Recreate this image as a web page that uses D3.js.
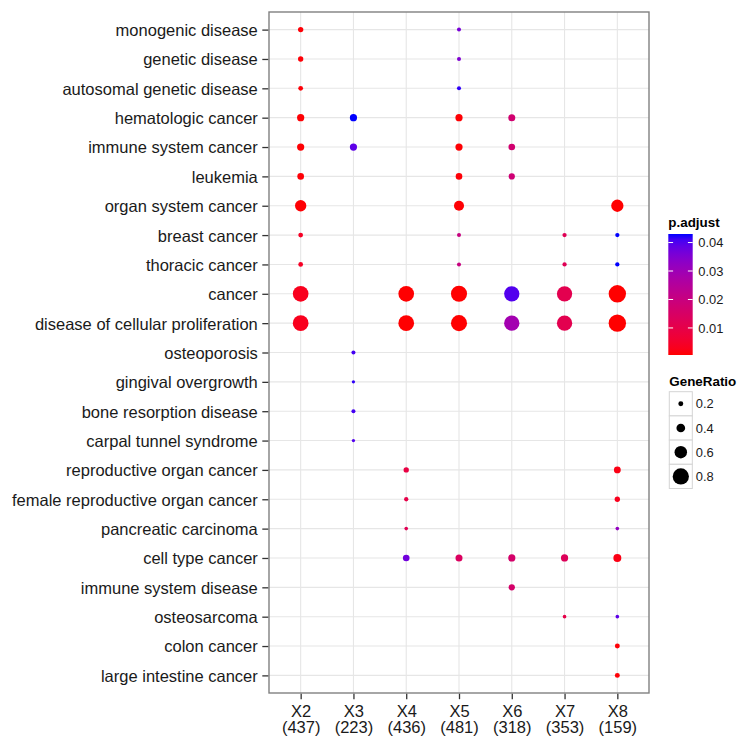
<!DOCTYPE html>
<html>
<meta charset="utf-8">
<script src="https://d3js.org/d3.v7.min.js"></script>

<body>

    <style>
        body,
        html {
            margin: 0;
            padding: 0;
            background: #fff;
            overflow: hidden;
        }

        svg text {
            font-family: "Liberation Sans", Arial, Helvetica, sans-serif;
        }
    </style>

    <svg id="chart"></svg>

    <script>
        // clusters on the x axis, with their gene counts
        var clusters = ["X2", "X3", "X4", "X5", "X6", "X7", "X8"];
        var clusterSizes = [437, 223, 436, 481, 318, 353, 159];

        // disease terms on the y axis, top to bottom
        var descriptions = [
            "monogenic disease", "genetic disease", "autosomal genetic disease",
            "hematologic cancer", "immune system cancer", "leukemia",
            "organ system cancer", "breast cancer", "thoracic cancer", "cancer",
            "disease of cellular proliferation", "osteoporosis", "gingival overgrowth",
            "bone resorption disease", "carpal tunnel syndrome", "reproductive organ cancer",
            "female reproductive organ cancer", "pancreatic carcinoma", "cell type cancer",
            "immune system disease", "osteosarcoma", "colon cancer", "large intestine cancer"
        ];

        // one entry per dot (long format)
        var pointCluster = [
            "X2", "X5",
            "X2", "X5",
            "X2", "X5",
            "X2", "X3", "X5", "X6",
            "X2", "X3", "X5", "X6",
            "X2", "X5", "X6",
            "X2", "X5", "X8",
            "X2", "X5", "X7", "X8",
            "X2", "X5", "X7", "X8",
            "X2", "X4", "X5", "X6", "X7", "X8",
            "X2", "X4", "X5", "X6", "X7", "X8",
            "X3", "X3", "X3", "X3",
            "X4", "X8",
            "X4", "X8",
            "X4", "X8",
            "X4", "X5", "X6", "X7", "X8",
            "X6",
            "X7", "X8",
            "X8", "X8"
        ];
        var pointDescription = [
            "monogenic disease", "monogenic disease",
            "genetic disease", "genetic disease",
            "autosomal genetic disease", "autosomal genetic disease",
            "hematologic cancer", "hematologic cancer", "hematologic cancer", "hematologic cancer",
            "immune system cancer", "immune system cancer", "immune system cancer", "immune system cancer",
            "leukemia", "leukemia", "leukemia",
            "organ system cancer", "organ system cancer", "organ system cancer",
            "breast cancer", "breast cancer", "breast cancer", "breast cancer",
            "thoracic cancer", "thoracic cancer", "thoracic cancer", "thoracic cancer",
            "cancer", "cancer", "cancer", "cancer", "cancer", "cancer",
            "disease of cellular proliferation", "disease of cellular proliferation",
            "disease of cellular proliferation", "disease of cellular proliferation",
            "disease of cellular proliferation", "disease of cellular proliferation",
            "osteoporosis", "gingival overgrowth", "bone resorption disease", "carpal tunnel syndrome",
            "reproductive organ cancer", "reproductive organ cancer",
            "female reproductive organ cancer", "female reproductive organ cancer",
            "pancreatic carcinoma", "pancreatic carcinoma",
            "cell type cancer", "cell type cancer", "cell type cancer", "cell type cancer", "cell type cancer",
            "immune system disease",
            "osteosarcoma", "osteosarcoma",
            "colon cancer", "large intestine cancer"
        ];
        var geneRatio = [
            0.22, 0.15,
            0.22, 0.15,
            0.19, 0.15,
            0.32, 0.32, 0.32, 0.31,
            0.32, 0.32, 0.32, 0.29,
            0.29, 0.29, 0.27,
            0.54, 0.47, 0.59,
            0.19, 0.15, 0.165, 0.165,
            0.19, 0.15, 0.165, 0.165,
            0.77, 0.77, 0.79, 0.75, 0.75, 0.86,
            0.77, 0.77, 0.79, 0.75, 0.75, 0.86,
            0.15, 0.11, 0.15, 0.11,
            0.22, 0.30,
            0.165, 0.22,
            0.13, 0.13,
            0.29, 0.31, 0.32, 0.32, 0.36,
            0.27,
            0.13, 0.13,
            0.20, 0.20
        ];
        var pAdjust = [
            0.001, 0.036,
            0.001, 0.035,
            0.001, 0.042,
            0.0008, 0.043, 0.0008, 0.017,
            0.0008, 0.039, 0.0008, 0.017,
            0.001, 0.001, 0.018,
            0.0008, 0.0008, 0.0006,
            0.004, 0.020, 0.012, 0.043,
            0.004, 0.020, 0.012, 0.043,
            0.003, 0.0006, 0.0006, 0.040, 0.011, 0.0005,
            0.003, 0.0006, 0.0006, 0.029, 0.011, 0.0005,
            0.041, 0.042, 0.041, 0.040,
            0.009, 0.002,
            0.010, 0.003,
            0.012, 0.032,
            0.037, 0.014, 0.016, 0.013, 0.002,
            0.016,
            0.010, 0.039,
            0.001, 0.001
        ];

        var colorTicks = [0.01, 0.02, 0.03, 0.04];
        var sizeTicks = [0.2, 0.4, 0.6, 0.8];

        var data = pointCluster.map(function (c, i) {
            return { cluster: c, description: pointDescription[i], ratio: geneRatio[i], p: pAdjust[i] };
        });

        var width = 738, height = 738;
        var panel = { left: 269, right: 649, top: 12, bottom: 693 };
        var textColor = "#1a1a1a";

        var svg = d3.select("#chart")
            .attr("width", width)
            .attr("height", height);

        svg.append("rect").attr("width", width).attr("height", height).attr("fill", "#fff");

        var x = d3.scalePoint()
            .domain(clusters)
            .range([panel.left, panel.right])
            .padding(0.6);

        var y = d3.scalePoint()
            .domain(descriptions)
            .range([panel.top, panel.bottom])
            .padding(0.6);

        var color = d3.scaleLinear()
            .domain(d3.extent(pAdjust))
            .range(["red", "blue"])
            .interpolate(d3.interpolateLab);

        var size = d3.scaleLinear()
            .domain([0, 1])
            .range([0.6, 10]);

        // grid
        var grid = svg.append("g");
        grid.selectAll(".vgrid")
            .data(clusters)
            .enter().append("line")
            .attr("x1", function (d) { return x(d); })
            .attr("x2", function (d) { return x(d); })
            .attr("y1", panel.top)
            .attr("y2", panel.bottom)
            .attr("stroke", "#e6e6e6")
            .attr("stroke-width", 1.1);
        grid.selectAll(".hgrid")
            .data(descriptions)
            .enter().append("line")
            .attr("y1", function (d) { return y(d); })
            .attr("y2", function (d) { return y(d); })
            .attr("x1", panel.left)
            .attr("x2", panel.right)
            .attr("stroke", "#e6e6e6")
            .attr("stroke-width", 1.1);

        // dots
        svg.selectAll(".dot")
            .data(data)
            .enter().append("circle")
            .attr("class", "dot")
            .attr("cx", function (d) { return x(d.cluster); })
            .attr("cy", function (d) { return y(d.description); })
            .attr("r", function (d) { return size(d.ratio); })
            .attr("fill", function (d) { return color(d.p); });

        // panel border
        svg.append("rect")
            .attr("x", panel.left)
            .attr("y", panel.top)
            .attr("width", panel.right - panel.left)
            .attr("height", panel.bottom - panel.top)
            .attr("fill", "none")
            .attr("stroke", "#808080")
            .attr("stroke-width", 1.4);

        // y axis
        var yAxis = svg.append("g")
            .attr("transform", "translate(" + (panel.left - 0.7) + ",0)")
            .call(d3.axisLeft(y).tickSize(6).tickPadding(4.5));
        yAxis.select(".domain").remove();
        yAxis.selectAll("line").attr("stroke", "#333").attr("stroke-width", 1.3);
        yAxis.selectAll("text")
            .attr("fill", textColor)
            .attr("dy", "0.36em")
            .style("font-size", "16.5px")
            .style("font-family", "'Liberation Sans', Arial, sans-serif");

        // x axis, two line labels
        var xAxis = svg.append("g")
            .attr("transform", "translate(0," + (panel.bottom + 0.7) + ")")
            .call(d3.axisBottom(x).tickSize(5.5));
        xAxis.select(".domain").remove();
        xAxis.selectAll("line").attr("stroke", "#333").attr("stroke-width", 1.3);
        xAxis.selectAll("text")
            .attr("y", null)
            .attr("dy", null)
            .attr("fill", textColor)
            .style("font-size", "16.5px")
            .style("font-family", "'Liberation Sans', Arial, sans-serif")
            .text(null)
            .each(function (d, i) {
                var t = d3.select(this);
                t.append("tspan").attr("x", 0).attr("y", 23).text(d);
                t.append("tspan").attr("x", 0).attr("y", 39.5).text("(" + clusterSizes[clusters.indexOf(d)] + ")");
            });

        // colour legend
        var cbar = { x: 668.3, w: 24.4, top: 234, bottom: 355 };
        var cy = d3.scaleLinear()
            .domain(color.domain())
            .range([cbar.bottom, cbar.top]);

        var grad = svg.append("defs").append("linearGradient")
            .attr("id", "pgrad")
            .attr("x1", 0).attr("y1", 1).attr("x2", 0).attr("y2", 0);
        d3.range(0, 1.0001, 0.05).forEach(function (t) {
            var v = color.domain()[0] + t * (color.domain()[1] - color.domain()[0]);
            grad.append("stop").attr("offset", t).attr("stop-color", color(v));
        });

        svg.append("text")
            .attr("x", 668.3)
            .attr("y", 226.5)
            .attr("fill", "#000")
            .style("font-size", "13.4px")
            .style("font-weight", "bold")
            .text("p.adjust");

        svg.append("rect")
            .attr("x", cbar.x)
            .attr("y", cbar.top)
            .attr("width", cbar.w)
            .attr("height", cbar.bottom - cbar.top)
            .attr("fill", "url(#pgrad)");

        var cticks = svg.append("g").selectAll("g")
            .data(colorTicks)
            .enter().append("g")
            .attr("transform", function (d) { return "translate(0," + cy(d) + ")"; });
        cticks.append("line")
            .attr("x1", cbar.x).attr("x2", cbar.x + 4.8)
            .attr("stroke", "#fff").attr("stroke-width", 1);
        cticks.append("line")
            .attr("x1", cbar.x + cbar.w - 4.8).attr("x2", cbar.x + cbar.w)
            .attr("stroke", "#fff").attr("stroke-width", 1);
        cticks.append("text")
            .attr("x", 698.3)
            .attr("dy", "0.36em")
            .attr("fill", textColor)
            .style("font-size", "12.9px")
            .text(function (d) { return d.toFixed(2); });

        // size legend
        svg.append("text")
            .attr("x", 669.3)
            .attr("y", 386.3)
            .attr("fill", "#000")
            .style("font-size", "13.4px")
            .style("font-weight", "bold")
            .text("GeneRatio");

        var keyH = 24.2, keyTop = 391.7;
        var keys = svg.append("g").selectAll("g")
            .data(sizeTicks)
            .enter().append("g")
            .attr("transform", function (d, i) { return "translate(669.3," + (keyTop + i * keyH) + ")"; });
        keys.append("rect")
            .attr("width", 23)
            .attr("height", keyH)
            .attr("fill", "#fff")
            .attr("stroke", "#d4d4d4")
            .attr("stroke-width", 1);
        keys.append("circle")
            .attr("cx", 11.5)
            .attr("cy", keyH / 2)
            .attr("r", function (d) { return size(d); })
            .attr("fill", "#000");
        keys.append("text")
            .attr("x", 26.5)
            .attr("y", keyH / 2)
            .attr("dy", "0.36em")
            .attr("fill", textColor)
            .style("font-size", "12.9px")
            .text(function (d) { return d.toFixed(1); });
    </script>

</body>

</html>
